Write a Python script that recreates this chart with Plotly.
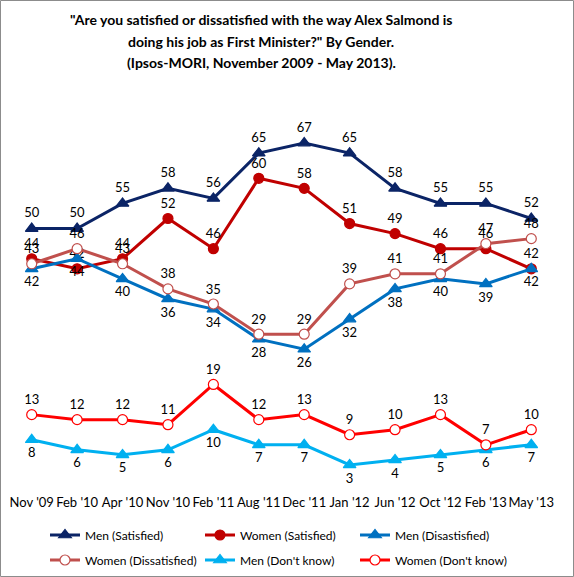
import plotly.graph_objects as go

# ---- data ----
months = ["Nov '09", "Feb '10", "Apr '10", "Nov '10", "Feb '11", "Aug '11",
          "Dec '11", "Jan '12", "Jun '12", "Oct '12", "Feb '13", "May '13"]

men_satisfied = [50, 50, 55, 58, 56, 65, 67, 65, 58, 55, 55, 52]
women_satisfied = [44, 42, 44, 52, 46, 60, 58, 51, 49, 46, 46, 42]
men_dissatisfied = [42, 44, 40, 36, 34, 28, 26, 32, 38, 40, 39, 42]
women_dissatisfied = [43, 46, 43, 38, 35, 29, 29, 39, 41, 41, 47, 48]
men_dont_know = [8, 6, 5, 6, 10, 7, 7, 3, 4, 5, 6, 7]
women_dont_know = [13, 12, 12, 11, 19, 12, 13, 9, 10, 13, 7, 10]

title_lines = [
    "\"Are you satisfied or dissatisfied with the way Alex Salmond is",
    "doing his job as First Minister?\" By Gender.",
    "(Ipsos-MORI, November 2009 - May 2013).",
]

FONT = "Lato, Liberation Sans, Arial, sans-serif"

# name, values, colour, symbol, marker fill, label position, legend row
series = [
    ("Men (Satisfied)", men_satisfied, "#0B2466", "triangle-up", None, "top center", "legend"),
    ("Women (Satisfied)", women_satisfied, "#C00000", "circle", None, "top center", "legend"),
    ("Men (Disastisfied)", men_dissatisfied, "#0070C0", "triangle-up", None, "bottom center", "legend"),
    ("Women (Dissatisfied)", women_dissatisfied, "#C0504D", "circle", "white", "top center", "legend2"),
    ("Men (Don't know)", men_dont_know, "#00B0F0", "triangle-up", None, "bottom center", "legend2"),
    ("Women (Don't know)", women_dont_know, "#FF0000", "circle", "white", "top center", "legend2"),
]

fig = go.Figure()

for name, vals, color, symbol, fill, tpos, leg in series:
    fig.add_trace(go.Scatter(
        x=months,
        y=vals,
        name=name,
        legend=leg,
        mode="lines+markers+text",
        line=dict(color=color, width=3),
        marker=dict(
            symbol=symbol,
            size=11 if symbol == "triangle-up" else 10,
            color=fill if fill else color,
            line=dict(color=color, width=1.2),
        ),
        text=[str(v) for v in vals],
        textposition=tpos,
        textfont=dict(family=FONT, size=13, color="black"),
        cliponaxis=False,
    ))

# plot area: x 9..554 px, y 128..480 px
PX_W, PX_H = 545, 352


def px_x(p):
    return (p - 9) / PX_W


def px_y(p):
    return (480 - p) / PX_H


legend_style = dict(
    orientation="h",
    x=px_x(45),
    xanchor="left",
    yanchor="middle",
    entrywidth=110,
    entrywidthmode="pixels",
    font=dict(family=FONT, size=12, color="black"),
    itemwidth=30,
    bgcolor="rgba(0,0,0,0)",
)

fig.update_layout(
    width=574,
    height=577,
    margin=dict(l=9, r=20, t=128, b=97, autoexpand=False),
    paper_bgcolor="white",
    plot_bgcolor="white",
    font=dict(family=FONT, size=13, color="black"),
    showlegend=True,
    legend=dict(legend_style, y=px_y(535)),
    legend2=dict(legend_style, y=px_y(560)),
)

fig.update_xaxes(
    type="category",
    range=[-0.5, 11.5],
    showgrid=False,
    showline=False,
    zeroline=False,
    ticks="",
    tickangle=0,
    ticklabelstandoff=13,
    tickfont=dict(family=FONT, size=13, color="black"),
)
fig.update_yaxes(
    range=[0, 70],
    showgrid=False,
    showline=False,
    zeroline=False,
    showticklabels=False,
    ticks="",
)

# title, one annotation per line
for line, ypix in zip(title_lines, [20, 41, 62]):
    fig.add_annotation(
        xref="paper", yref="paper",
        x=px_x(261), y=px_y(ypix),
        xanchor="center", yanchor="middle",
        showarrow=False,
        text="<b>" + line + "</b>",
        font=dict(family=FONT, size=14, color="black"),
    )

# outer chart border
fig.add_shape(
    type="rect", xref="paper", yref="paper",
    x0=px_x(0.5), x1=px_x(573.5),
    y0=px_y(576.5), y1=px_y(0.5),
    line=dict(color="#8C8C8C", width=1),
    fillcolor="rgba(0,0,0,0)",
)

# drop the default page margin so the chart sits at the window's top-left
fig.write_html(
    "out.html",
    config={"displayModeBar": False},
    post_script="document.body.style.margin='0';",
)
